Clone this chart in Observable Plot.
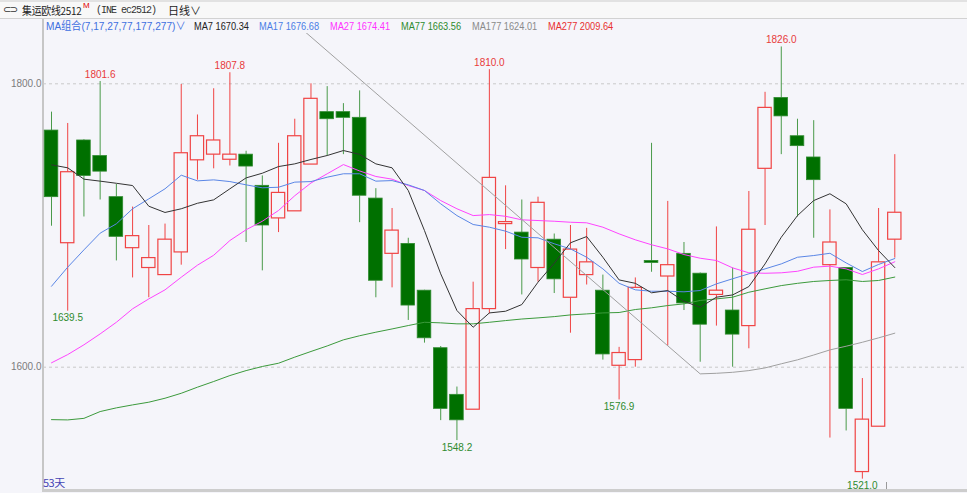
<!DOCTYPE html>
<html><head><meta charset="utf-8">
<script src="https://cdn.jsdelivr.net/npm/d3@7"></script>
<script src="https://cdn.jsdelivr.net/npm/@observablehq/plot@0.6"></script>
<style>
html,body{margin:0;padding:0;background:#f5f5fa;width:967px;height:493px;overflow:hidden;font-family:"Liberation Sans","Noto Sans CJK SC",sans-serif;}
#wrap{position:relative;width:967px;height:493px;}
#top{position:absolute;left:0;top:0;width:967px;height:19px;background:#f8f8f8;border-top:2px solid #e2e2e2;border-bottom:1px solid #d2d2d2;box-sizing:border-box;}
.t{position:absolute;white-space:nowrap;transform-origin:0 50%;}
#axisline{position:absolute;left:42px;top:19px;width:2px;height:471px;background:#c6c6c6;}
#bottomline{position:absolute;left:42px;top:489px;width:925px;height:3px;background:#cdcdcd;}
#chart{position:absolute;left:0;top:33px;}
#chart svg{overflow:visible;}
#marker{position:absolute;left:886px;top:482px;width:1px;height:7px;background:#9a9a9a;}
</style></head>
<body><div id="wrap">
<div id="top"></div>
<div id="axisline"></div>
<div id="bottomline"></div>
<div id="chart"></div>
<div id="marker"></div>
</div>
<script>
// ---- data ----
const openV  = [1767,1687.5,1760,1749,1720,1684,1670,1665,1681,1746,
 1750,1746.4,1750,1728,1705,1710,1743,1780,1780,1776,
 1719,1680,1687,1654,1613.4,1580.5,1570,1641,1701,1695,
 1670,1690,1649,1665,1654,1601,1605,1675,1664,1680,
 1666,1651,1640,1629,1740,1790,1763,1748,1672,1670,
 1526,1558,1690];
const closeV = [1720,1737.6,1735,1738,1692,1692.5,1677,1690,1751,1763,
 1760,1750,1741.6,1700,1723,1763,1789.4,1775,1776,1721,
 1661,1696.4,1643.5,1620.4,1570.6,1562.5,1641,1733.6,1702.4,1676,
 1716,1662,1683,1674,1609,1610,1656,1673.6,1672,1645,
 1630,1654,1623,1697,1783,1777,1756,1732,1688,1570.6,
 1563,1674,1709];
const highV  = [1780,1772,1760.5,1801.6,1729,1713,1700,1701,1799.5,1778,
 1796.5,1807.8,1752.4,1735,1758,1775,1800,1798,1786,1795,
 1726,1712,1691,1654.3,1614.6,1586,1660,1810,1728,1718,
 1720,1694,1700,1698,1665,1614,1663,1758,1717,1688,
 1666.5,1699,1670,1724,1794,1826,1775,1774,1711,1670,
 1592,1712,1750];
const lowV   = [1699.5,1639.5,1706,1718,1675,1663,1649,1665,1672,1732,
 1740,1742,1688,1668,1695,1710,1743,1749,1750,1702,
 1649,1656,1633,1617,1562.3,1548.2,1570,1637.6,1683,1651,
 1660,1652,1624,1658,1605,1576.9,1600,1667,1615,1640,
 1603.5,1629,1600,1613,1700,1750,1706,1691,1550,1555,
 1521,1558,1677];
const ma7  = [1742.8,1740.7,1732.7,1731.3,1729.8,1728.2,1713.6,1709.2,1711.8,1715.7,
 1718.1,1725.9,1733.6,1736.9,1741.6,1743.5,1746.6,1749.4,1752.9,1750.2,
 1743.5,1740.7,1724.7,1696.4,1665.9,1640,1628.2,1638.3,1639.5,1644.2,
 1660,1673.4,1687.8,1692.2,1677.6,1661.6,1659.2,1652.5,1654.1,1646.5,
 1642.3,1649.4,1651,1656.9,1672.9,1691.7,1707,1717.6,1722.4,1715.3,
 1697,1682.3,1670.3];
const ma17 = [1657.1,1670.6,1682.8,1694.6,1701.2,1711.8,1718.8,1725.9,1735.5,1731.5,
 1732.2,1731,1728.7,1726.6,1727,1730.6,1731,1734.1,1736.5,1736.5,
 1731.3,1731.7,1728.7,1724.7,1715.3,1707,1700.7,1698.8,1696,1691.7,
 1691.3,1687.1,1683.5,1677.6,1669.4,1659.2,1654.6,1653.6,1653.6,1653.2,
 1654.1,1658.8,1662.4,1665.9,1669.4,1672.9,1677.6,1678.8,1680.4,1673.6,
 1667.5,1672.5,1676.7];
const ma27 = [1603.1,1608.9,1615.8,1623.5,1631.7,1641.2,1648.2,1654.6,1663.5,1672,
 1679,1689.4,1697,1703,1710.6,1721,1730,1736.5,1743,1738.5,
 1734.6,1732.7,1728.2,1724.7,1717.6,1711.8,1707,1707.7,1706.5,1704,
 1703.5,1703,1702.3,1701.9,1698.8,1694.1,1689.9,1686.4,1683.5,1679.5,
 1676.9,1675.3,1670.1,1666.6,1666.3,1666.6,1667.7,1670.6,1671.3,1669.4,
 1665.4,1669.4,1674.4];
const ma77 = [1563,1562.8,1563.9,1568.7,1571.3,1573.4,1575.3,1578.1,1581.6,1585.9,
 1589.9,1594.1,1597.6,1600.5,1602.8,1607.1,1611.1,1615,1619.3,1622.2,
 1624.7,1627,1629.4,1631.7,1631.3,1630.6,1630.6,1631.7,1632.9,1634,
 1634.8,1635.7,1636.9,1637.6,1638.3,1638.6,1640.7,1641.9,1643.5,1644.7,
 1647.1,1648.2,1649.4,1652.9,1655.3,1657.6,1659.2,1660.5,1661.2,1661.7,
 1660.5,1661.2,1663.6];
const ma177 = [null,null,null,null,null,null,null,null,null,null,
 null,null,null,null,null,1843,null,null,null,null,
 null,null,null,null,null,null,null,null,null,null,
 null,null,null,null,null,null,null,null,null,null,
 1595.3,1595.7,1596.4,1597.6,1599.5,1602.4,1605.2,1608.6,1612.2,1614.8,
 1617.6,1620.7,1624.0];
const yTicks = [1600, 1800];
const highLabelIdx = [4, 12, 28, 46];
const lowLabelIdx  = [2, 26, 36, 51];
const legendNames  = ["MA7","MA17","MA27","MA77","MA177","MA277"];
const legendValues = ["1670.34","1676.68","1674.41","1663.56","1624.01","2009.64"];
const legendColors = ["#222222","#4a7de6","#ff33ff","#2e8b2e","#8a8a8a","#e83030"];
const legendX      = [194, 259, 330, 401, 472, 548];
const titleName = "集运欧线2512";
const titleCode = "(INE ec2512)";
const periodLabel = "日线";
const dayCount = "53天";

// ---- header (HTML text) ----
const wrap = document.getElementById("wrap");
function addText(txt, x, y, css) {
  const s = document.createElement("span");
  s.className = "t"; s.textContent = txt;
  s.style.left = x + "px"; s.style.top = y + "px";
  Object.assign(s.style, css || {});
  wrap.appendChild(s);
  return s;
}
addText("⊂⊃", 3, 3, {fontSize:"10px", color:"#333", lineHeight:"14px", fontFamily:"'DejaVu Sans',sans-serif", letterSpacing:"-2px"});
addText(titleName, 22, 3, {fontSize:"11px", color:"#222", lineHeight:"14px", fontFamily:"'Noto Sans CJK SC',sans-serif", letterSpacing:"-0.3px", transform:"scaleX(0.9)"});
addText("M", 83, 1, {fontSize:"8px", color:"#e00000", lineHeight:"10px"});
addText(titleCode, 96, 4, {fontSize:"10px", color:"#333", lineHeight:"13px", fontFamily:"'Liberation Mono',monospace", letterSpacing:"-1px"});
addText(periodLabel + "∨", 168, 3, {fontSize:"11px", color:"#222", lineHeight:"14px", fontFamily:"'Noto Sans CJK SC',sans-serif"});
addText("MA组合(7,17,27,77,177,277)∨", 46, 19, {fontSize:"11px", color:"#3d6fe0", lineHeight:"14px", transform:"scaleX(0.92)"});
legendNames.forEach((n, k) => {
  addText(n + " " + legendValues[k], legendX[k], 19, {fontSize:"11px", color:legendColors[k], lineHeight:"14px", transform:"scaleX(0.84)"});
});
addText(dayCount, 43, 476, {fontSize:"11px", color:"#4545b5", lineHeight:"13px", fontFamily:"'Noto Sans CJK SC',sans-serif", letterSpacing:"-0.5px"});

// ---- chart ----
const rows = openV.map((o, k) => ({
  i: k + 1, open: o, close: closeV[k], high: highV[k], low: lowV[k],
  up: closeV[k] >= o,
  top: Math.max(o, closeV[k]), bot: Math.min(o, closeV[k]),
  ma7: ma7[k], ma17: ma17[k], ma27: ma27[k], ma77: ma77[k], ma177: ma177[k]
}));
const upRows = rows.filter(d => d.up);
const downRows = rows.filter(d => !d.up);
const RED = "#f04444", GREEN_FILL = "#007000", GREEN_EDGE = "#2f8a2f", GREEN_WICK = "#4a9a4a";
const highLabels = highLabelIdx.map(i => ({i, v: highV[i - 1]}));
const lowLabels = lowLabelIdx.map(i => ({i, v: lowV[i - 1]}));

const chart = Plot.plot({
  width: 967, height: 458,
  marginLeft: 43, marginRight: 0, marginTop: 0, marginBottom: 0,
  style: {background: "transparent", fontFamily: "'Liberation Sans',sans-serif", fontSize: "10px", overflow: "visible"},
  x: {type: "linear", domain: [1, 53], range: [51, 894.3], axis: null},
  y: {type: "linear", domain: [1600, 1800], range: [333.7, 50.3], axis: null},
  marks: [
    Plot.ruleY(yTicks, {y: d => d, stroke: "#c9c9c9", strokeDasharray: "3,3", strokeWidth: 1}),
    Plot.axisY(yTicks, {anchor: "left", tickSize: 0, tickPadding: 2, tickFormat: d => d.toFixed(1), fill: "#7c7c7c", fontSize: 10, label: null}),
    // wicks
    Plot.ruleX(rows, {x: "i", y1: "top", y2: "high", stroke: d => d.up ? RED : GREEN_WICK, strokeWidth: 1}),
    Plot.ruleX(rows, {x: "i", y1: "low", y2: "bot", stroke: d => d.up ? RED : GREEN_WICK, strokeWidth: 1}),
    // bodies
    Plot.rect(upRows, {x1: d => d.i - 0.41, x2: d => d.i + 0.41, y1: "open", y2: "close", fill: "none", stroke: RED, strokeWidth: 1.2}),
    Plot.rect(downRows, {x1: d => d.i - 0.42, x2: d => d.i + 0.42, y1: "open", y2: "close", fill: GREEN_FILL, stroke: GREEN_EDGE, strokeWidth: 0.8}),
    // moving averages
    Plot.line(rows, {x: "i", y: "ma77", stroke: "#3c9a3c", strokeWidth: 1}),
    Plot.line(rows, {x: "i", y: "ma27", stroke: "#ff44ff", strokeWidth: 1}),
    Plot.line(rows, {x: "i", y: "ma17", stroke: "#5a86e6", strokeWidth: 1}),
    Plot.line(rows, {x: "i", y: "ma7", stroke: "#333333", strokeWidth: 1}),
    Plot.line(rows.filter(d => d.ma177 != null), {x: "i", y: "ma177", stroke: "#a0a0a0", strokeWidth: 1, clip: "frame"}),
    // extreme labels
    Plot.text(highLabels, {x: "i", y: "v", text: d => d.v.toFixed(1), dy: -7, fill: "#e83a3a", fontSize: 10}),
    Plot.text(lowLabels, {x: "i", y: "v", text: d => d.v.toFixed(1), dy: 7, fill: "#2e8b2e", fontSize: 10})
  ]
});
document.getElementById("chart").appendChild(chart);
</script>
</body></html>
